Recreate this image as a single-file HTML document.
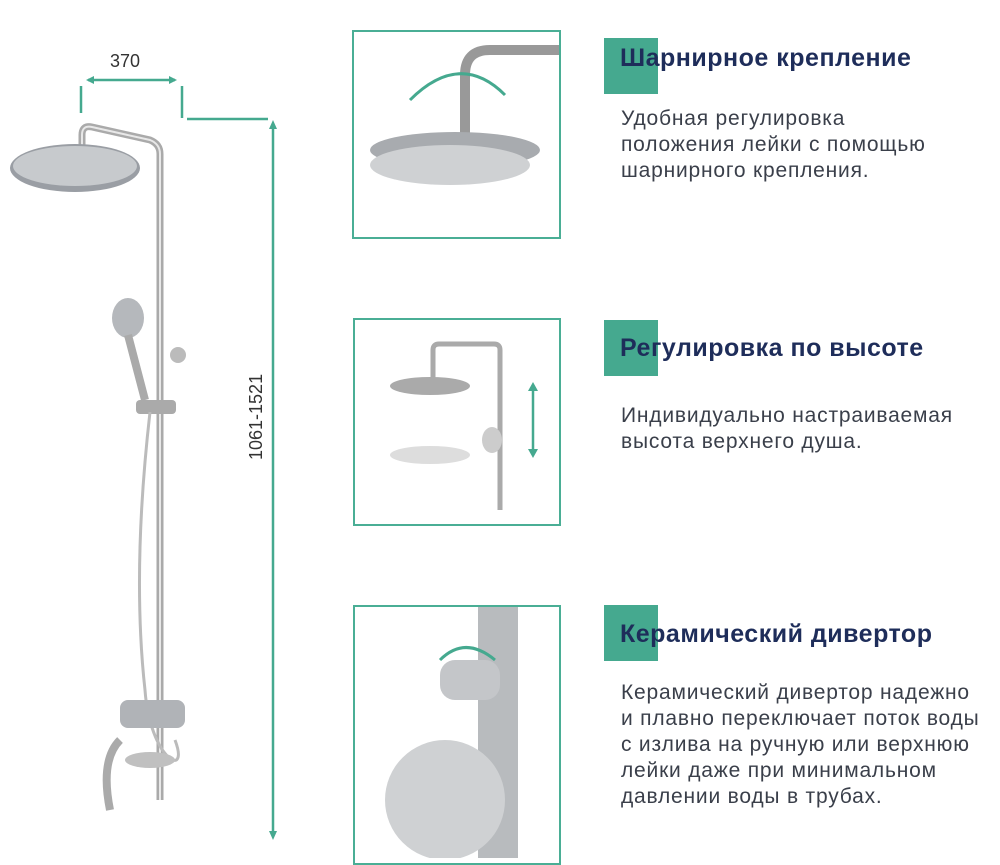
<!DOCTYPE html>
<html><head><meta charset="utf-8"><style>
body{margin:0;width:1000px;height:858px;background:#fff;position:relative;overflow:hidden;font-family:"Liberation Sans",sans-serif}
.box{position:absolute;border:2px solid #4aae95;box-sizing:border-box;background:#fff}
.sq{position:absolute;width:54px;height:56px;background:#45a98f}
.t{position:absolute;left:620px;font-size:25px;letter-spacing:0.5px;font-weight:bold;color:#1e2d5a;white-space:nowrap}
.d{position:absolute;left:621px;font-size:21px;letter-spacing:0.8px;line-height:26px;color:#3a3f4a;white-space:nowrap}
svg{position:absolute;left:0;top:0}
</style></head><body>
<svg width="1000" height="858">
<g stroke="#45a98f" stroke-width="2.5" fill="#45a98f">
<line x1="88" y1="80" x2="175" y2="80"/><path d="M86 80l8-4v8zM177 80l-8-4v8z" stroke="none"/>
<line x1="81" y1="86" x2="81" y2="113"/><line x1="182" y1="86" x2="182" y2="118"/>
<line x1="187" y1="119" x2="268" y2="119"/>
<line x1="273" y1="128" x2="273" y2="832"/><path d="M273 120l-4 9h8zM273 840l-4-9h8z" stroke="none"/>
</g>
<text x="110" y="67" font-size="18" fill="#333" font-family="Liberation Sans">370</text>
<text transform="translate(262,460) rotate(-90)" font-size="18" fill="#333" font-family="Liberation Sans">1061-1521</text>
<g fill="none" stroke="#aaa" stroke-width="7">
<path d="M82 150V135q0-10 10-8L150 140q10 4 10 14V800"/>
</g>
<path d="M82 150V135q0-10 10-8L150 140q10 4 10 14V800" fill="none" stroke="#e8e8e8" stroke-width="2"/>
<ellipse cx="75" cy="168" rx="65" ry="24" fill="#9a9ea4"/>
<ellipse cx="75" cy="166" rx="62" ry="20" fill="#c7cacd"/>
<ellipse cx="128" cy="318" rx="16" ry="20" fill="#b5b8bc"/>
<path d="M128 335L145 400" stroke="#aaa" stroke-width="8"/>
<rect x="136" y="400" width="40" height="14" rx="4" fill="#aaa"/>
<circle cx="178" cy="355" r="8" fill="#bbb"/>
<path d="M150 412C140 500 135 600 145 690C150 760 190 780 175 740" fill="none" stroke="#bbb" stroke-width="3"/>
<rect x="120" y="700" width="65" height="28" rx="8" fill="#b0b3b7"/>
<path d="M120 740q-20 20 -10 70" fill="none" stroke="#aaa" stroke-width="8"/>
<ellipse cx="150" cy="760" rx="25" ry="8" fill="#c0c0c0"/>
<path d="M465 140V75q0-25 25-25h70" fill="none" stroke="#999" stroke-width="10"/>
<ellipse cx="455" cy="150" rx="85" ry="18" fill="#a8abaf"/>
<ellipse cx="450" cy="165" rx="80" ry="20" fill="#cfd1d3"/>
<path d="M410 100Q460 50 505 95" fill="none" stroke="#45a98f" stroke-width="3"/>
<path d="M433 385V350q0-6 6-6h55q6 0 6 6v160" fill="none" stroke="#aaa" stroke-width="5"/>
<ellipse cx="430" cy="386" rx="40" ry="9" fill="#aaa"/>
<ellipse cx="430" cy="455" rx="40" ry="9" fill="#ddd"/>
<ellipse cx="492" cy="440" rx="10" ry="13" fill="#ccc"/>
<g stroke="#45a98f" stroke-width="2.5" fill="#45a98f"><line x1="533" y1="388" x2="533" y2="452"/><path d="M533 382l-5 9h10zM533 458l-5-9h10z" stroke="none"/></g>
<rect x="478" y="607" width="40" height="251" fill="#b8bbbe"/>
<rect x="440" y="660" width="60" height="40" rx="15" fill="#c4c6c9"/>
<ellipse cx="445" cy="800" rx="60" ry="60" fill="#cfd1d3"/>
<path d="M440 660q25-25 55 0" fill="none" stroke="#45a98f" stroke-width="3"/>
</svg>
<div class="box" style="left:352px;top:30px;width:209px;height:209px;background:transparent"></div>
<div class="box" style="left:353px;top:318px;width:208px;height:208px;background:transparent"></div>
<div class="box" style="left:353px;top:605px;width:208px;height:260px;background:transparent"></div>
<div class="sq" style="left:604px;top:38px"></div>
<div class="sq" style="left:604px;top:320px"></div>
<div class="sq" style="left:604px;top:605px"></div>
<div class="t" style="top:44px">Шарнирное крепление</div>
<div class="d" style="top:106px">Удобная регулировка<br>положения лейки с помощью<br>шарнирного крепления.</div>
<div class="t" style="top:334px">Регулировка по высоте</div>
<div class="d" style="top:403px">Индивидуально настраиваемая<br>высота верхнего душа.</div>
<div class="t" style="top:620px">Керамический дивертор</div>
<div class="d" style="top:680px">Керамический дивертор надежно<br>и плавно переключает поток воды<br>с излива на ручную или верхнюю<br>лейки даже при минимальном<br>давлении воды в трубах.</div>
</body></html>
